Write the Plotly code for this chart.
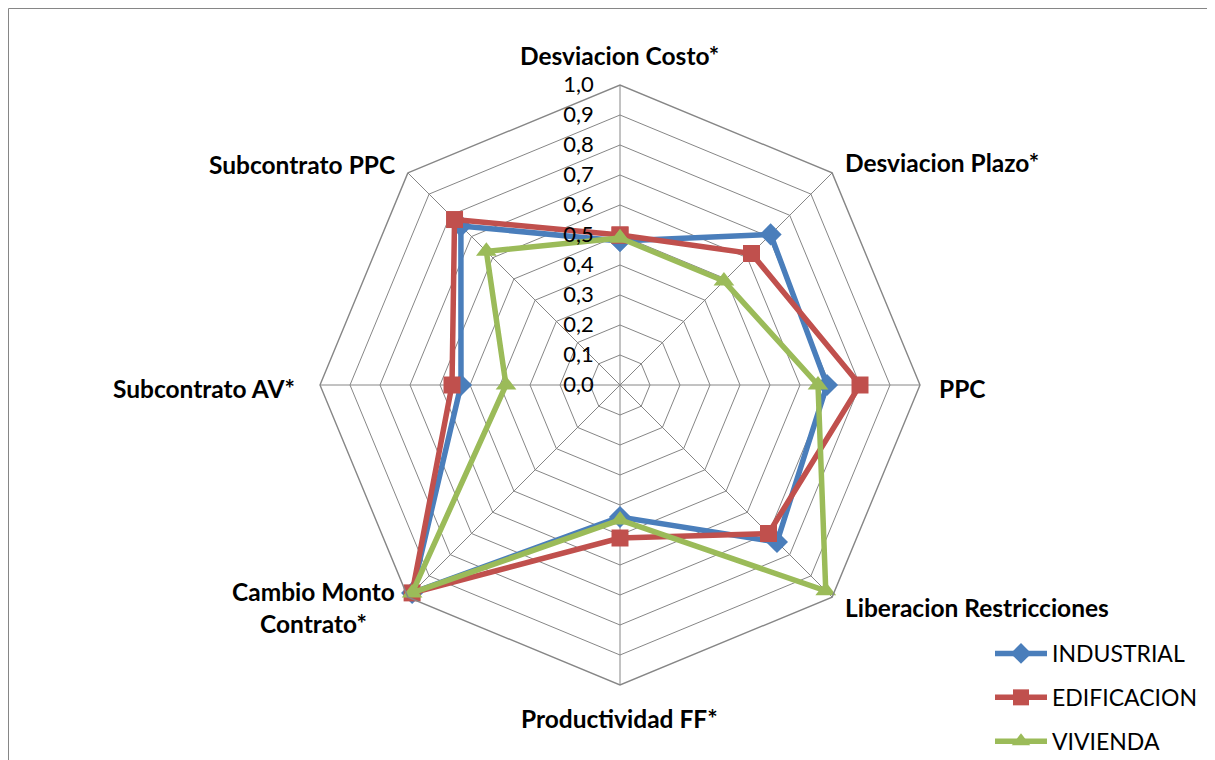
import math
import plotly.graph_objects as go

categories = ["Desviacion Costo*", "Desviacion Plazo*", "PPC", "Liberacion Restricciones",
              "Productividad FF*", "Cambio Monto<br>Contrato*", "Subcontrato AV*", "Subcontrato PPC"]
industrial = [0.48, 0.71, 0.69, 0.74, 0.44, 0.98, 0.53, 0.75]
edificacion = [0.50, 0.62, 0.80, 0.70, 0.51, 0.98, 0.56, 0.78]
vivienda = [0.49, 0.49, 0.66, 0.97, 0.45, 0.98, 0.38, 0.63]
tick_vals = [i / 10 for i in range(11)]

series = [
    ("INDUSTRIAL", industrial, "#4A7EBB", "diamond", 17),
    ("EDIFICACION", edificacion, "#C0504D", "square", 17),
    ("VIVIENDA", vivienda, "#9BBB59", "triangle-up", 18),
]

# category label placement relative to each polygon vertex (px offset, anchor)
label_style = [
    (0, -30, "center"), (11, -10, "left"), (17, 3, "left"), (11, 10, "left"),
    (0, 33, "center"), (-94, 10, "center"), (-23, 3, "right"), (-11, -8, "right"),
]

W, H = 1215, 760
OFF = 8  # page body offset

fig = go.Figure()
for name, vals, color, sym, size in series:
    fig.add_trace(go.Scatterpolar(
        r=vals + vals[:1], theta=categories + categories[:1],
        mode="lines+markers", name=name, legendgroup=name,
        line=dict(color=color, width=5.5),
        marker=dict(symbol=sym, size=size, color=color, line=dict(width=0)),
    ))

cx, cy, R = 620 - OFF, 385 - OFF, 300

annotations = []
n = len(categories)
for i, (cat, (dx, dy, anchor)) in enumerate(zip(categories, label_style)):
    th = math.radians(i * 360 / n)
    vx = cx + R * math.sin(th) + dx
    vy = cy - R * math.cos(th) + dy
    annotations.append(dict(
        text=cat, x=vx / W, y=1 - vy / H, xref="paper", yref="paper",
        xanchor=anchor, yanchor="middle", align="center", showarrow=False,
        font=dict(size=24.5, family="Lato, 'Open Sans', sans-serif", weight="bold", color="#000000"),
    ))

fig.update_layout(
    width=W, height=H,
    paper_bgcolor="white", plot_bgcolor="white",
    margin=dict(l=0, r=0, t=0, b=0),
    separators=",.",
    font=dict(family="Lato, 'Open Sans', sans-serif", color="#000000"),
    polar=dict(
        domain=dict(x=[(cx - R) / W, (cx + R) / W], y=[1 - (cy + R) / H, 1 - (cy - R) / H]),
        bgcolor="white",
        gridshape="linear",
        angularaxis=dict(
            rotation=90, direction="clockwise", showticklabels=False,
            showline=True, linecolor="#868686", linewidth=1.4,
            gridcolor="#868686", gridwidth=1.4, ticks="",
        ),
        radialaxis=dict(
            range=[0, 1], tickvals=tick_vals, tickformat=".1f",
            angle=90, tickangle=90, side="counterclockwise",
            showline=False, gridcolor="#868686", gridwidth=1.4,
            tickfont=dict(size=22, color="#000000"),
            ticks="outside", ticklen=18, tickcolor="rgba(0,0,0,0)",
        ),
    ),
    legend=dict(
        x=(990 - OFF) / W, y=1 - (632 - OFF) / H, xanchor="left", yanchor="top",
        font=dict(size=23, family="Lato, 'Open Sans', sans-serif"),
        tracegroupgap=11, bgcolor="rgba(0,0,0,0)", itemwidth=52,
    ),
    annotations=annotations,
    shapes=[dict(type="rect", xref="paper", yref="paper",
                 x0=0.5 / W, x1=1.02, y0=-0.05, y1=1 - 0.5 / H,
                 line=dict(color="#868686", width=1))],
)

fig.write_html("out.html")
